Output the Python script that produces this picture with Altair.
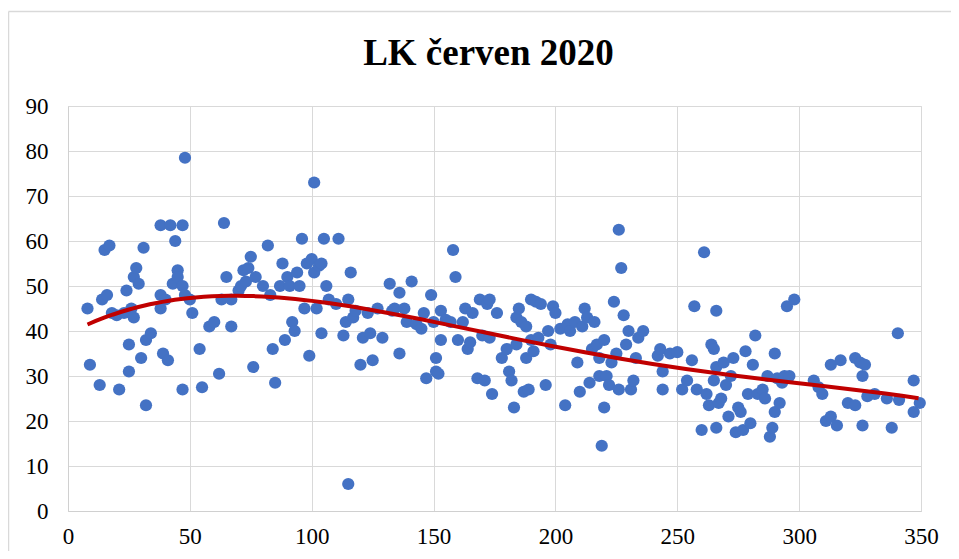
import altair as alt
import pandas as pd

x_vals = [8, 9, 13, 14, 15, 16, 17, 18, 20, 21, 23, 24, 25, 25, 26, 27, 27, 28, 29, 30, 31, 32, 32, 34, 38, 38, 38, 39, 40, 41, 42, 43, 44, 45, 45, 47, 47, 47, 48, 48, 50, 51,
          54, 55, 58, 60, 62, 63, 64, 65, 67, 67, 70, 71, 72, 73, 74, 75, 76, 77, 80, 82, 83, 84, 85, 87, 88, 89, 90, 91, 92, 93, 94, 95, 96, 97, 98, 99, 100, 101, 101, 102, 103, 104, 104, 105, 106, 107,
          110, 111, 113, 114, 115, 115, 116, 117, 118, 120, 121, 123, 124, 125, 127, 129, 132, 133, 134, 136, 136, 138, 139, 141, 143, 145, 146, 147, 149, 150, 151, 151, 152, 153, 153, 155,
          157, 158, 159, 160, 162, 163, 164, 165, 166, 168, 169, 170, 171, 172, 173, 173, 174, 176, 178, 180, 181, 182, 183, 184, 184, 185, 186, 187, 188, 188, 189, 190, 190, 191, 192, 193, 194, 196, 197, 198, 199, 200,
          202, 204, 205, 206, 208, 209, 210, 211, 212, 213, 214, 215, 216, 217, 218, 218, 219, 220, 220, 221, 222, 223, 224, 225, 226, 226, 227, 228, 229, 230, 231, 232, 233, 234, 236, 242, 243, 244, 244, 247,
          250, 252, 254, 256, 257, 258, 260, 261, 262, 263, 264, 265, 265, 266, 266, 266, 267, 268, 269, 270, 271, 272, 273, 274, 275, 276, 277, 278, 279, 280, 281, 282, 283, 285, 286, 287, 288, 289, 290, 290, 291, 292, 293, 294, 295, 296, 298,
          306, 308, 309.5, 311, 313, 313, 315.5, 317, 320, 323, 323, 325, 326, 326, 327, 328, 331, 336, 338, 340.5, 341, 347, 347, 349.5]
y_vals = [45, 32.5, 28, 47, 58, 48, 59, 44, 43.5, 27, 44, 49, 37, 31, 45, 43, 52, 54, 50.5, 34, 58.5, 23.5, 38, 39.5, 45, 48, 63.5, 35, 47, 33.5, 63.5, 50.5, 60, 53.5, 52, 50, 27, 63.5, 78.5, 48, 47, 44,
          36, 27.5, 41, 42, 30.5, 47, 64, 52, 47, 41, 49, 50, 53.5, 51, 54, 56.5, 32, 52, 50, 59, 48, 36, 28.5, 50, 55, 38, 52, 50, 42, 40, 53, 50, 60.5, 45, 55, 34.5, 56, 53, 73, 45, 54.5, 55, 39.5, 60.5, 50, 47,
          46, 60.5, 39, 42, 47, 6, 53, 43, 44.5, 32.5, 38.5, 44, 39.5, 33.5, 45, 38.5, 50.5, 44.5, 45, 35, 48.5, 45, 42, 51, 41.5, 40.5, 44, 29.5, 48, 42, 34, 31, 30.5, 44.5, 38, 42.5,
          42, 58, 52, 38, 42, 45, 36, 37.5, 44, 29.5, 47, 39, 29, 46, 38.5, 47, 26, 44, 34, 36, 31, 29, 23, 37, 43, 45, 42, 26.5, 34, 41, 27, 47, 38, 35.5, 46.5, 38.5, 46, 28, 40, 37, 45.5, 44,
          40.5, 23.5, 41.5, 40, 42, 33, 26.5, 41, 45, 43, 28.5, 36, 42, 37, 30, 34, 14.5, 38, 23, 30, 28, 33, 46.5, 35, 27, 62.5, 54, 43.5, 37, 40, 27, 29, 34, 38.5, 40, 34.5, 36, 27, 31, 35,
          35.3, 27, 29, 33.5, 45.5, 27, 18, 57.5, 26, 23.5, 37, 36, 29, 32, 18.5, 44.5, 24, 25, 33, 28, 21, 30, 34, 17.5, 23, 22, 18, 35.5, 26, 19.5, 32.5, 39, 26, 27, 25, 30, 16.5, 18.5, 22, 35, 29.5, 24, 28.5, 30, 45.5, 30, 47,
          29, 27.5, 26, 20, 32.5, 21, 19, 33.5, 24, 23.5, 34, 33, 30, 19, 32.5, 25.5, 26, 25, 18.5, 39.5, 24.7, 29, 22, 24]

x_ticks = [0, 50, 100, 150, 200, 250, 300, 350]
y_ticks = [0, 10, 20, 30, 40, 50, 60, 70, 80, 90]

df = pd.DataFrame({"x": x_vals, "y": y_vals})
frame_df = pd.DataFrame({"k": [0]})

font = "Liberation Serif"
xs = alt.Scale(domain=[0, 350], nice=False, zero=False)
ys = alt.Scale(domain=[0, 90], nice=False)

xax = alt.Axis(values=x_ticks, title=None, ticks=False, labelFont=font, labelFontSize=23,
               labelColor="#000000", gridColor="#D9D9D9", domainColor="#D0D0D0", labelPadding=14,
               labelFlush=False)
yax = alt.Axis(values=y_ticks, title=None, ticks=False, labelFont=font, labelFontSize=23,
               labelColor="#000000", gridColor="#D9D9D9", domainColor="#D0D0D0", labelPadding=20,
               labelFlush=False)

base = alt.Chart(df)
points = base.mark_circle(size=150, color="#4472C4", opacity=1).encode(
    x=alt.X("x:Q", scale=xs, axis=xax),
    y=alt.Y("y:Q", scale=ys, axis=yax),
)
trend = base.transform_regression("x", "y", method="poly", order=4, extent=[8, 349]).mark_line(
    color="#C00000", strokeWidth=4
).encode(
    x=alt.X("x:Q", scale=xs),
    y=alt.Y("y:Q", scale=ys),
)

# outer chart-area border (top and left edges visible in the reference)
frame_top = alt.Chart(frame_df).mark_rule(color="#D9D9D9", strokeWidth=1.5).encode(
    x=alt.value(-59.5), x2=alt.value(900), y=alt.value(-94.5)
)
frame_left = alt.Chart(frame_df).mark_rule(color="#D9D9D9", strokeWidth=1.5).encode(
    x=alt.value(-59.5), y=alt.value(-94.5), y2=alt.value(460)
)

chart = (frame_top + frame_left + points + trend).properties(
    width=853, height=405,
    title=alt.TitleParams("LK červen 2020", font=font, fontSize=37, fontWeight="bold",
                          color="#000000", anchor="middle", offset=-62, dx=-6),
    autosize=alt.AutoSizeParams(type="none"),
    padding={"left": 60, "top": 98, "right": 30, "bottom": 40},
).configure_view(stroke=None).configure(background="#FFFFFF")

chart.save("out.html", embed_options={"renderer": "svg", "actions": False})
